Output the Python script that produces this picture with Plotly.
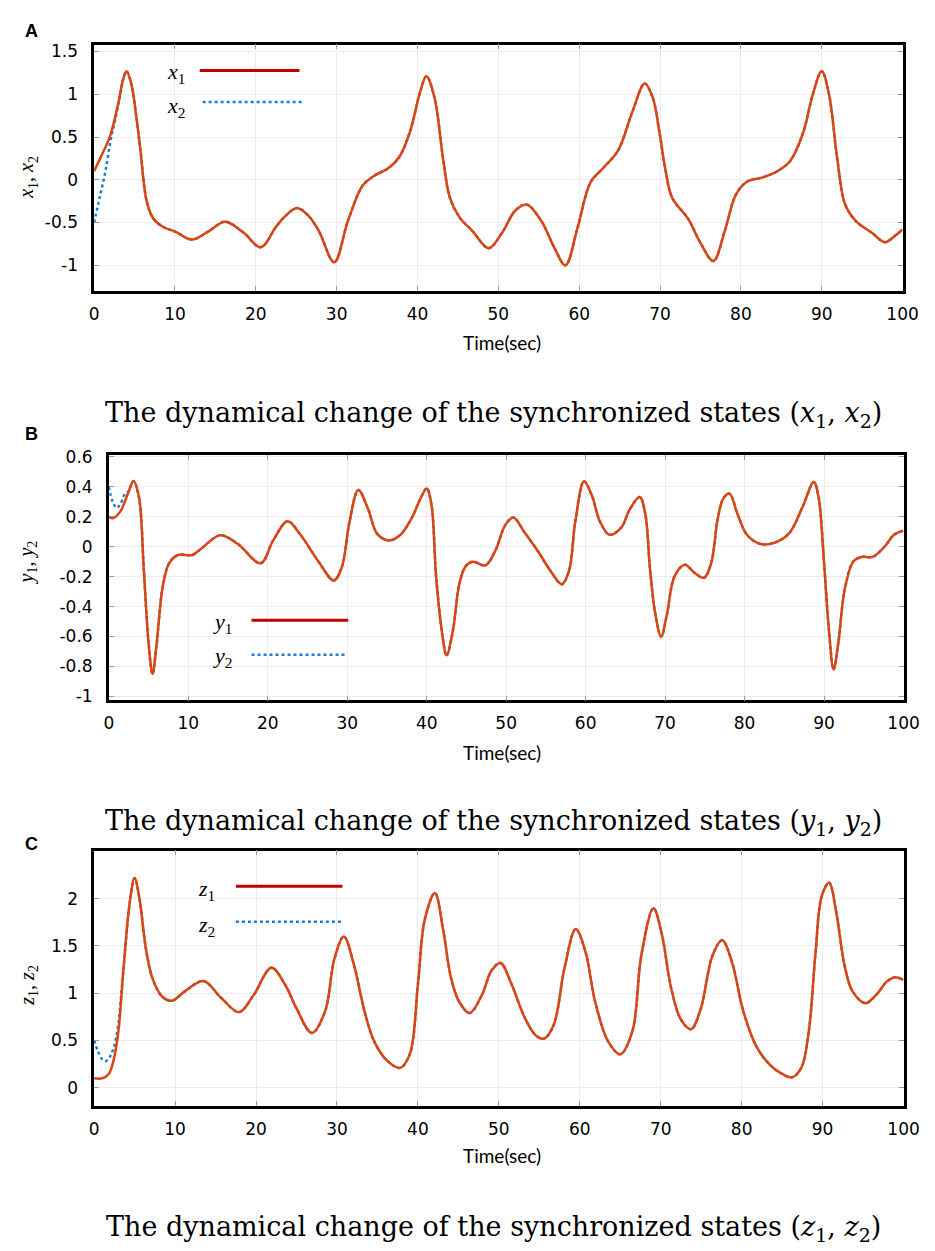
import plotly.graph_objects as go

W, H = 935, 1251

# ---------------- Data ----------------
time_ticks = [0, 10, 20, 30, 40, 50, 60, 70, 80, 90, 100]

# Panel A: x1 (and x2 transient before synchronization)
tA = [0, 1.0, 2.0, 3.0, 3.6, 4.0, 4.6, 5.2, 5.7, 6.5, 7.3, 8.5, 10.1, 12.1, 14.2, 16.2,
      18.5, 20.6, 22.5, 23.7, 25.1, 26.5, 27.8, 29.7, 31.4, 33.2, 34.7, 36.3, 37.7, 39.1,
      40.3, 41.1, 42.1, 43.2, 44.0, 45.2, 46.8, 48.8, 50.4, 52.1, 53.5, 55.3, 56.9, 58.3,
      59.8, 61.4, 63.0, 64.8, 66.6, 68.1, 69.1, 69.9, 70.7, 71.5, 73.5, 74.9, 76.6, 78.0,
      79.4, 80.8, 82.8, 84.5, 86.1, 87.7, 88.9, 90.0, 90.9, 91.9, 92.9, 94.2, 96.2, 97.8,
      99.0, 100]
x1 = [0.10, 0.30, 0.52, 0.90, 1.18, 1.27, 1.12, 0.75, 0.37, -0.25, -0.45, -0.55, -0.61,
      -0.70, -0.60, -0.49, -0.62, -0.79, -0.55, -0.42, -0.33, -0.42, -0.60, -0.965, -0.48,
      -0.07, 0.05, 0.13, 0.26, 0.57, 1.02, 1.21, 0.96, 0.22, -0.21, -0.44, -0.60, -0.80,
      -0.63, -0.36, -0.29, -0.48, -0.79, -1.00, -0.56, -0.03, 0.14, 0.34, 0.80, 1.125, 0.96,
      0.57, 0.10, -0.21, -0.46, -0.72, -0.95, -0.60, -0.17, -0.02, 0.03, 0.10, 0.22, 0.55,
      1.00, 1.27, 1.00, 0.26, -0.29, -0.48, -0.62, -0.73, -0.66, -0.58]
x2_t0 = [0, 0.7, 1.4, 2.0, 2.6, 3.2]
x2_init = [-0.50, -0.20, 0.10, 0.44, 0.70, 0.98]

# Panel B: y1 (and y2 transient)
tB = [0, 0.5, 1.5, 2.5, 3.1, 3.8, 4.4, 5.0, 5.5, 6.0, 6.8, 7.6, 8.7, 10.5, 11.7, 14.0, 16.2,
      19.1, 20.7, 22.5, 24.0, 26.4, 28.3, 29.3, 30.3, 31.4, 32.6, 33.8, 35.3, 36.7, 38.1,
      39.2, 40.0, 40.6, 41.2, 42.0, 42.5, 43.3, 44.1, 44.9, 45.8, 47.4, 48.6, 49.9, 50.9,
      52.3, 54.0, 55.6, 57.0, 57.9, 58.7, 59.8, 60.8, 61.8, 63.0, 64.5, 65.5, 66.8, 67.5,
      68.1, 68.8, 69.5, 70.2, 71.2, 72.5, 73.7, 74.9, 75.8, 76.6, 77.3, 78.1, 79.1, 80.3,
      81.9, 83.6, 85.6, 87.3, 88.7, 89.3, 90.0, 90.6, 91.2, 91.8, 92.6, 93.7, 94.7, 96.1,
      97.6, 98.8, 100]
y1 = [0.20, 0.19, 0.24, 0.37, 0.44, 0.33, -0.15, -0.64, -0.85, -0.66, -0.26, -0.11, -0.055,
      -0.055, -0.01, 0.077, 0.02, -0.11, 0.044, 0.17, 0.088, -0.10, -0.225, -0.14, 0.17,
      0.38, 0.256, 0.084, 0.042, 0.08, 0.19, 0.32, 0.39, 0.28, -0.21, -0.60, -0.726, -0.56,
      -0.25, -0.13, -0.10, -0.124, -0.03, 0.146, 0.196, 0.097, -0.03, -0.163, -0.25, -0.163,
      0.168, 0.437, 0.34, 0.168, 0.08, 0.13, 0.245, 0.333, 0.22, -0.15, -0.46, -0.60, -0.46,
      -0.196, -0.12, -0.174, -0.207, -0.108, 0.18, 0.32, 0.355, 0.22, 0.08, 0.02, 0.024,
      0.09, 0.267, 0.433, 0.333, -0.108, -0.55, -0.82, -0.64, -0.285, -0.097, -0.068,
      -0.068, 0.0, 0.08, 0.108]
y2_t0 = [0, 0.5, 1.0, 1.5, 2.1]
y2_init = [0.40, 0.30, 0.26, 0.29, 0.36]

# Panel C: z1 (and z2 transient)
tC = [0, 1.0, 1.8, 2.4, 3.0, 3.6, 4.4, 5.0, 5.6, 6.4, 7.2, 8.4, 9.6, 11.2, 13.5, 15.7, 17.9,
      19.7, 21.9, 23.6, 25.0, 26.9, 28.5, 29.7, 30.85, 32.1, 33.4, 34.6, 36.2, 37.8, 39.0,
      40.0, 40.85, 42.1, 43.1, 44.1, 45.1, 46.4, 47.9, 49.1, 50.2, 51.6, 53.2, 54.6, 55.6,
      56.8, 58.1, 59.5, 60.7, 61.9, 63.5, 65.0, 66.5, 67.6, 69.1, 70.1, 71.3, 72.5, 73.75,
      74.96, 76.4, 77.6, 78.8, 80.2, 81.8, 83.4, 85.0, 86.25, 87.4, 88.3, 89.1, 89.9, 90.8,
      91.7, 92.7, 93.7, 95.3, 96.7, 97.9, 98.95, 100]
z1 = [0.10, 0.10, 0.146, 0.29, 0.60, 1.23, 1.96, 2.22, 2.00, 1.47, 1.16, 0.965, 0.92, 1.02,
      1.13, 0.95, 0.80, 0.98, 1.27, 1.09, 0.84, 0.58, 0.80, 1.37, 1.60, 1.30, 0.81, 0.49,
      0.286, 0.21, 0.355, 1.09, 1.78, 2.06, 1.68, 1.16, 0.91, 0.79, 0.98, 1.24, 1.32, 1.09,
      0.74, 0.55, 0.52, 0.67, 1.26, 1.68, 1.44, 0.91, 0.49, 0.355, 0.60, 1.40, 1.90, 1.64,
      1.05, 0.72, 0.62, 0.84, 1.40, 1.56, 1.33, 0.81, 0.44, 0.25, 0.146, 0.11, 0.216, 0.60,
      1.40, 2.03, 2.17, 1.85, 1.30, 1.02, 0.895, 0.99, 1.12, 1.17, 1.14]
z2_t0 = [0, 0.5, 1.0, 1.4, 1.9, 2.4, 2.9]
z2_init = [0.50, 0.38, 0.30, 0.28, 0.32, 0.42, 0.62]

yticksA = [-1, -0.5, 0, 0.5, 1, 1.5]
yticksB = [-1, -0.8, -0.6, -0.4, -0.2, 0, 0.2, 0.4, 0.6]
yticksC = [0, 0.5, 1, 1.5, 2]

# ---------------- Styling ----------------
CURVE = "#DA4510"
LEG_RED = "#C00000"
BLUE = "#1F7BD6"

def px_x(p):
    return p / W

def px_y(p):
    return 1 - p / H

panels = [
    dict(t=tA, s1=x1, t0=x2_t0, s2i=x2_init, xd=(83, 910), yd=(29, 278), yr=[-1.30, 1.58],
         yt=yticksA, name="x"),
    dict(t=tB, s1=y1, t0=y2_t0, s2i=y2_init, xd=(98, 911), yd=(444, 692), yr=[-1.026, 0.613],
         yt=yticksB, name="y"),
    dict(t=tC, s1=z1, t0=z2_t0, s2i=z2_init, xd=(83, 911), yd=(844, 1102), yr=[-0.19, 2.51],
         yt=yticksC, name="z"),
]

fig = go.Figure()
layout = dict(width=W, height=H, margin=dict(l=0, r=0, t=0, b=0), showlegend=False,
              paper_bgcolor="white", plot_bgcolor="white")

for i, p in enumerate(panels, start=1):
    xa = "x" if i == 1 else f"x{i}"
    ya = "y" if i == 1 else f"y{i}"
    # second (response) state: transient, then coincides with the first
    merge = p["t0"][-1]
    t2 = list(p["t0"]) + [tt for tt in p["t"] if tt > merge + 0.3]
    s2 = list(p["s2i"]) + [v for tt, v in zip(p["t"], p["s1"]) if tt > merge + 0.3]
    fig.add_trace(go.Scatter(x=t2, y=s2, mode="lines", xaxis=xa, yaxis=ya,
                             line=dict(color=BLUE, width=2.5, dash="dot", shape="spline",
                                       smoothing=1.0)))
    fig.add_trace(go.Scatter(x=p["t"], y=p["s1"], mode="lines", xaxis=xa, yaxis=ya,
                             line=dict(color=CURVE, width=2.5, shape="spline", smoothing=1.0)))
    common = dict(showline=True, linecolor="black", linewidth=2.5, mirror="all",
                  ticks="inside", ticklen=5, tickcolor="#9a9a9a", tickwidth=1,
                  showgrid=True, gridcolor="#ececec", gridwidth=1, zeroline=False,
                  tickfont=dict(family="DejaVu Sans", size=17, color="black"))
    xkey = "xaxis" if i == 1 else f"xaxis{i}"
    ykey = "yaxis" if i == 1 else f"yaxis{i}"
    layout[xkey] = dict(common, domain=[px_x(p["xd"][0]), px_x(p["xd"][1])], range=[0, 100],
                        tickvals=time_ticks, ticktext=[str(v) for v in time_ticks],
                        anchor=ya, ticklabelstandoff=6)
    layout[ykey] = dict(common, domain=[px_y(p["yd"][1]), px_y(p["yd"][0])], range=p["yr"],
                        tickvals=p["yt"], ticktext=[f"{v:g}" for v in p["yt"]],
                        anchor=xa, ticklabelstandoff=10)

fig.update_layout(**layout)

ann = []
shapes = []

def add_text(x, y, text, size, family, color="black", angle=0, xanchor="center"):
    ann.append(dict(x=px_x(x), y=px_y(y), xref="paper", yref="paper", text=text,
                    showarrow=False, font=dict(size=size, family=family, color=color),
                    textangle=angle, xanchor=xanchor, yanchor="middle"))

# panel letters
for letter, yy in [("A", 15), ("B", 423), ("C", 837)]:
    add_text(10, yy, f"<b>{letter}</b>", 18, "Liberation Sans", xanchor="left")

# x axis titles
for yy in [330, 745, 1152]:
    add_text(500, yy, "Time(sec)", 19, "Lato")

# y axis titles
for nm, yy in [("x", 163), ("y", 553), ("z", 980)]:
    add_text(15, yy, f"<i>{nm}</i><sub>1</sub>, <i>{nm}</i><sub>2</sub>", 20,
             "Liberation Serif", angle=-90)

# captions
for nm, yy in [("x", 403), ("y", 816), ("z", 1226)]:
    add_text(492, yy, f"The dynamical change of the synchronized states "
                      f"(<i>{nm}</i><sub>1</sub>, <i>{nm}</i><sub>2</sub>)", 27,
             "DejaVu Serif")

# in-plot legends: text followed by line sample
legs = [
    ("x", 167, 58, 191, 293, 55, 167, 92, 194, 297, 87),
    ("y", 214, 614, 244, 343, 611, 214, 648, 244, 342, 646),
    ("z", 198, 884, 228, 337, 880, 198, 920, 228, 337, 916),
]
for nm, tx1, ty1, lx0, lx1, ly1, tx2, ty2, mx0, mx1, my2 in legs:
    add_text(tx1, ty1, f"<i>{nm}</i><sub>1</sub>", 22, "Liberation Serif")
    add_text(tx2, ty2, f"<i>{nm}</i><sub>2</sub>", 22, "Liberation Serif")
    shapes.append(dict(type="line", xref="paper", yref="paper", x0=px_x(lx0), x1=px_x(lx1),
                       y0=px_y(ly1), y1=px_y(ly1), line=dict(color=LEG_RED, width=3)))
    shapes.append(dict(type="line", xref="paper", yref="paper", x0=px_x(mx0), x1=px_x(mx1),
                       y0=px_y(my2), y1=px_y(my2), line=dict(color=BLUE, width=2.5, dash="dot")))

fig.update_layout(annotations=ann, shapes=shapes)
fig.write_html("out.html")
